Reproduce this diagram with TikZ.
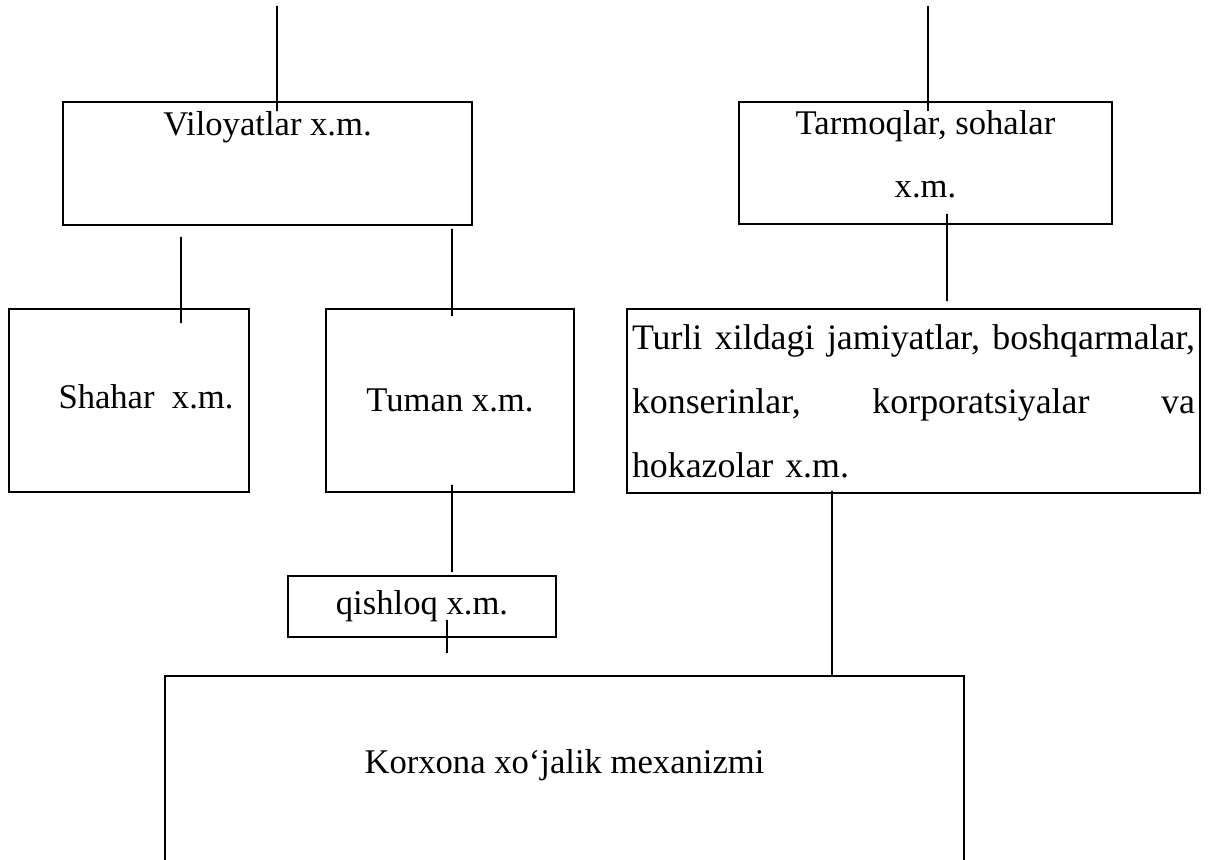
\documentclass[tikz,border=0pt]{standalone}
\usepackage{fontspec}
\setmainfont{Liberation Serif}
\usetikzlibrary{positioning}

\begin{document}
\begin{tikzpicture}[
  font=\fontsize{19.7}{36}\selectfont,
  box/.style={draw=black, line width=1.1pt, inner sep=0pt, align=center},
  link/.style={draw=black, line width=1.1pt}
]
\useasboundingbox (0,0) rectangle (24.2,-17.18);

\node[box, minimum width=8.18cm, minimum height=2.46cm,
      label={[yshift=0.73cm]center:Viloyatlar x.m.}] (viloyat) at (5.35,-3.27) {};
\node[box, minimum width=7.46cm, minimum height=2.44cm,
      label={[align=center, yshift=0.18cm]center:{Tarmoqlar, sohalar\\x.m.}}] (tarmoq) at (18.51,-3.26) {};

\node[box, minimum width=4.8cm, minimum height=3.66cm,
      label={[xshift=0.34cm, yshift=0.07cm]center:Shahar\ \ x.m.}] (shahar) at (2.58,-8.01) {};
\node[box, minimum width=4.96cm, minimum height=3.66cm] (tuman) at (9.0,-8.01) {Tuman x.m.};
\node[box, minimum width=11.46cm, minimum height=3.68cm, text width=11.26cm,
      inner xsep=0.1cm, align=left, font=\fontsize{20.4}{36.5}\selectfont] (turli) at (18.27,-8.02)
  {Turli\hfill xildagi\hfill jamiyatlar,\hfill boshqarmalar,\\
   konserinlar,\hfill korporatsiyalar\hfill va\\
   hokazolar x.m.};

\node[box, minimum width=5.36cm, minimum height=1.22cm] (qishloq) at (8.44,-12.13) {qishloq x.m.};
\node[box, minimum width=15.98cm, minimum height=4.28cm,
      label={[yshift=0.36cm]center:Korxona xo‘jalik mexanizmi}] (korxona) at (11.29,-15.66) {};

\coordinate (viltop) at (5.54,-0.12);
\coordinate (tarmtop) at (18.56,-0.12);

\draw[link] (viltop) -- ([xshift=0.19cm, yshift=-0.2cm]viloyat.north);
\draw[link] (tarmtop) -- ([xshift=0.05cm, yshift=-0.2cm]tarmoq.north);
\draw[link] ([xshift=-1.73cm, yshift=-0.22cm]viloyat.south) -- ([xshift=1.04cm, yshift=-0.3cm]shahar.north);
\draw[link] ([xshift=3.69cm, yshift=-0.06cm]viloyat.south) -- ([xshift=0.04cm, yshift=-0.16cm]tuman.north);
\draw[link] ([xshift=0.43cm, yshift=0.22cm]tarmoq.south) -- ([xshift=0.67cm, yshift=0.14cm]turli.north);
\draw[link] ([xshift=0.04cm, yshift=0.16cm]tuman.south) -- ([xshift=0.6cm, yshift=0.06cm]qishloq.north);
\draw[link] ([xshift=0.5cm, yshift=0.36cm]qishloq.south) -- ([xshift=-2.35cm, yshift=0.44cm]korxona.north);
\draw[link] ([xshift=-1.63cm, yshift=0.06cm]turli.south) -- ([xshift=5.35cm]korxona.north);
\end{tikzpicture}
\end{document}
